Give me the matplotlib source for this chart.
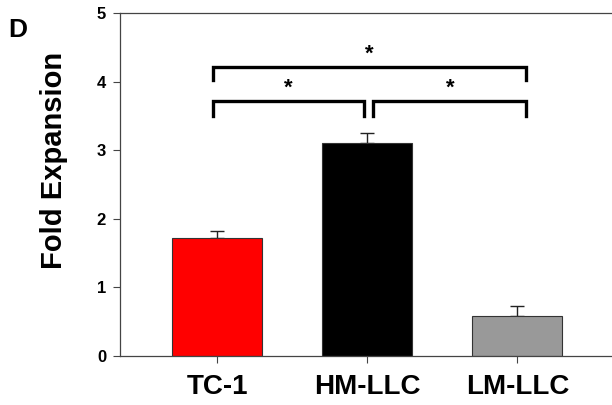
"""Fold expansion bar chart with significance brackets (panel D)."""
import matplotlib

matplotlib.use("Agg")
import matplotlib.pyplot as plt

plt.rcParams["font.family"] = ["Liberation Sans", "DejaVu Sans"]
plt.rcParams["font.weight"] = "bold"

groups = ["TC-1", "HM-LLC", "LM-LLC"]
fold = [1.72, 3.10, 0.59]
err_up = [0.10, 0.15, 0.14]
colors = ["#ff0000", "#000000", "#999999"]

# (left x, right x, bracket height, leg bottom, label)
brackets = [
    (-0.03, 2.06, 4.21, 4.03, "*"),
    (-0.03, 0.98, 3.71, 3.50, "*"),
    (1.04, 2.06, 3.71, 3.50, "*"),
]

fig = plt.figure(figsize=(6.12, 4.05), dpi=100)
ax = fig.add_axes([0.196, 0.121, 0.804, 0.847])

x = list(range(len(groups)))
ax.bar(x, fold, width=0.6, color=colors, edgecolor="#333333", linewidth=0.8,
       zorder=2)
ax.errorbar(x, fold, yerr=[[0] * len(err_up), err_up], fmt="none",
            ecolor="#222222", elinewidth=1.0, capsize=5, capthick=1.0, zorder=1)

for x0, x1, y, yb, lab in brackets:
    ax.plot([x0, x0, x1, x1], [yb, y, y, yb], color="black", lw=2.4,
            solid_joinstyle="miter", clip_on=False)
    ax.text((x0 + x1) / 2, y + 0.04, lab, ha="center", va="bottom",
            fontsize=16, fontweight="bold")

ax.set_xlim(-0.65, 2.63)
ax.set_ylim(0, 5)
ax.set_yticks(range(6))
ax.set_xticks(x)
ax.set_xticklabels(groups, fontsize=20, fontweight="bold")
ax.tick_params(axis="y", labelsize=12, length=5, width=0.8, color="#444444",
               pad=5)
ax.tick_params(axis="x", length=5, width=0.8, color="#444444", pad=8)
for lab in ax.get_yticklabels():
    lab.set_fontweight("bold")

ax.spines["right"].set_visible(False)
for s in ("left", "bottom", "top"):
    ax.spines[s].set_color("#444444")
    ax.spines[s].set_linewidth(0.9)

ax.set_ylabel("Fold Expansion", fontsize=21, fontweight="bold")
ax.yaxis.set_label_coords(-0.105, 0.57)
fig.text(0.014, 0.925, "D", fontsize=19, fontweight="bold", va="center")

fig.savefig("out.png", dpi=100)
